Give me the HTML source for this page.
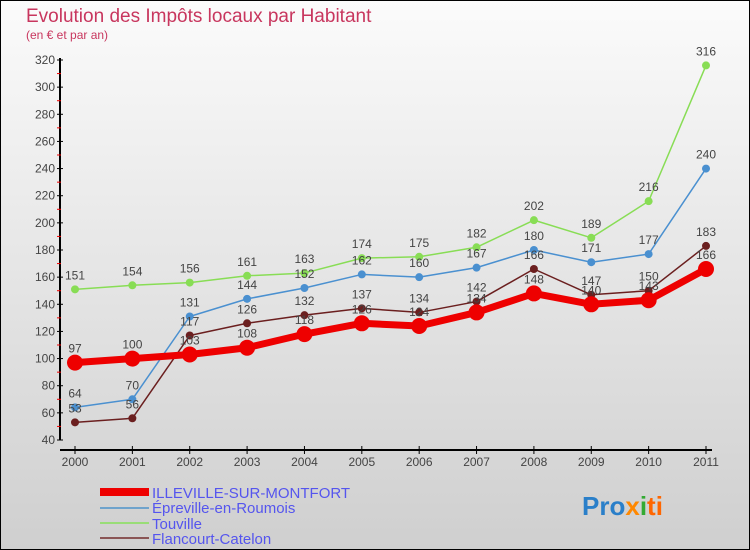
<!DOCTYPE html>
<html><head><meta charset="utf-8"><style>
body{margin:0}
#wrap{position:relative;width:750px;height:550px;box-sizing:border-box;border:1px solid #000;background:linear-gradient(#fbfbfb,#cfcfcf);font-family:"Liberation Sans",sans-serif;overflow:hidden}
</style></head><body>
<div id="wrap">
<svg id="chart" width="750" height="550" style="position:absolute;left:-1px;top:-1px">
<text x="26" y="22" font-size="19" fill="#c8365e">Evolution des Impôts locaux par Habitant</text>
<text x="26" y="39" font-size="12" fill="#c8365e">(en € et par an)</text>
<g id="axes"></g><g id="series"></g>
<g font-size="15" fill="#5555ee">
<rect x="100" y="488" width="49" height="8" fill="#ee0000"/>
<text x="152" y="498">ILLEVILLE-SUR-MONTFORT</text>
<rect x="100" y="507" width="49" height="2" fill="#6fa3cc"/>
<text x="152" y="513">Épreville-en-Roumois</text>
<rect x="100" y="522" width="49" height="2" fill="#99dd77"/>
<text x="152" y="529">Touville</text>
<rect x="100" y="537" width="49" height="2" fill="#8a5555"/>
<text x="152" y="544">Flancourt-Catelon</text>
</g>
<text x="582" y="515" font-size="26" font-weight="bold"><tspan fill="#2a7fc9">Pro</tspan><tspan fill="#ff8800">x</tspan><tspan fill="#33aa33">i</tspan><tspan fill="#ff6600">ti</tspan></text>
</svg>
</div>
<script>
const years=[2000,2001,2002,2003,2004,2005,2006,2007,2008,2009,2010,2011];
const yTicks=[40,60,80,100,120,140,160,180,200,220,240,260,280,300,320];
const illeville=[97,100,103,108,118,126,124,134,148,140,143,166];
const epreville=[64,70,131,144,152,162,160,167,180,171,177,240];
const touville=[151,154,156,161,163,174,175,182,202,189,216,316];
const flancourt=[53,56,117,126,132,137,134,142,166,147,150,183];
const NS='http://www.w3.org/2000/svg';
const xS=i=>75+i*(706-75)/11;
const yS=v=>440-(v-40)*(380/280);
function mk(tag,attrs,parent){const e=document.createElementNS(NS,tag);for(const k in attrs)e.setAttribute(k,attrs[k]);parent.appendChild(e);return e;}
const ax=document.getElementById('axes');
let yl=mk('line',{x1:60,y1:58,x2:60,y2:440,stroke:'#000','stroke-width':2},ax);


let xl=mk('line',{x1:60,y1:450,x2:712,y2:450,stroke:'#000','stroke-width':2},ax);


yTicks.forEach((t,i)=>{
  mk('line',{x1:57,x2:63,y1:yS(t),y2:yS(t),stroke:'#000'},ax);
  if(i<yTicks.length-1)mk('line',{x1:57,x2:61,y1:yS(t+10),y2:yS(t+10),stroke:'#e00'},ax);
  const tx=mk('text',{x:55,y:yS(t)+4,'font-size':12,fill:'#444','text-anchor':'end'},ax);
  tx.textContent=t;
  
  
});
years.forEach((y,i)=>{
  mk('line',{x1:xS(i),x2:xS(i),y1:446,y2:454,stroke:'#000'},ax);
  const tx=mk('text',{x:xS(i),y:466,'font-size':12,fill:'#444','text-anchor':'middle'},ax);
  tx.textContent=y;
  
  
});
const sg=document.getElementById('series');
function series(data,color,w,r,name){
  const g=mk('g',{},sg);
  
  
  const p=mk('polyline',{points:data.map((v,i)=>xS(i)+','+yS(v)).join(' '),fill:'none',stroke:color,'stroke-width':w,'stroke-linejoin':'round'},g);
  
  
  data.forEach((v,i)=>{
    const c=mk('circle',{cx:xS(i),cy:yS(v),r:r,fill:color},g);
    
    
    const t=mk('text',{x:xS(i),y:yS(v)-10,'font-size':12,fill:'#444','text-anchor':'middle'},g);
    t.textContent=v;
    
    
  });
}
series(touville,'#88dd55',1.5,4,'touville');
series(epreville,'#4a90d0',1.5,4,'epreville');
series(flancourt,'#6b1f1f',1.5,4,'flancourt');
series(illeville,'#ee0000',7,8,'illeville');
</script>
</body></html>
